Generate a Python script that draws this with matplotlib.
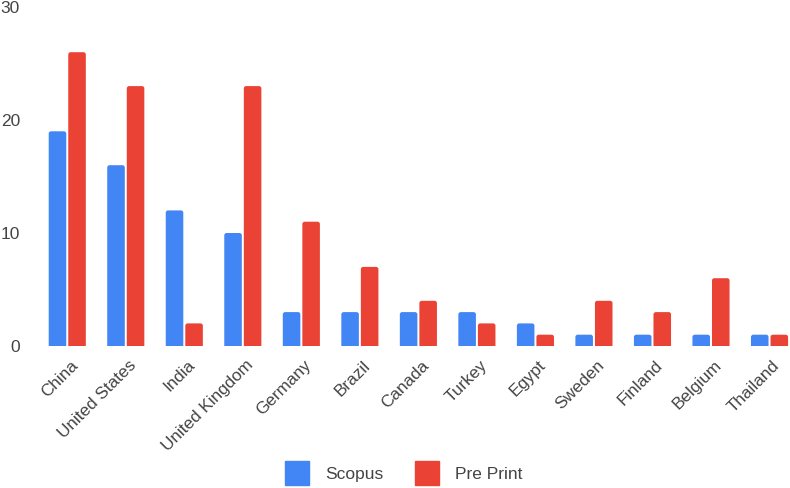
import matplotlib
matplotlib.use('Agg')
import matplotlib.pyplot as plt
import matplotlib.transforms as mtransforms
from matplotlib.patches import FancyBboxPatch
from matplotlib.lines import Line2D
import numpy as np

plt.rcParams['font.family'] = ['Liberation Sans', 'DejaVu Sans']

countries = ['China', 'United States', 'India', 'United Kingdom', 'Germany', 'Brazil',
             'Canada', 'Turkey', 'Egypt', 'Sweden', 'Finland', 'Belgium', 'Thailand']
scopus = [19, 16, 12, 10, 3, 3, 3, 3, 2, 1, 1, 1, 1]
preprint = [26, 23, 2, 23, 11, 7, 4, 2, 1, 4, 3, 6, 1]
yticks = [0, 10, 20, 30]

BLUE = '#4285F4'
RED = '#EA4335'
TEXT = '#444444'

W, H = 790, 488
fig = plt.figure(figsize=(W / 100, H / 100), dpi=100)
# axes box in pixels: left 38, right 790, y0 at 346, y30 at 7
ax = fig.add_axes([38 / W, (H - 346) / H, (790 - 38) / W, (346 - 7) / H])

x = np.arange(len(countries))
bw = 0.3
b1 = ax.bar(x - bw / 2 - 0.017, scopus, bw, color=BLUE)
b2 = ax.bar(x + bw / 2 + 0.017, preprint, bw, color=RED)

ax.set_xlim(-0.5, 12.35)
ax.set_ylim(0, 30)

# swap plain bars for bars with slightly rounded tops
for bars in (b1, b2):
    for p in bars:
        bx, by = p.get_x(), p.get_y()
        bwid, bh = p.get_width(), p.get_height()
        rp = FancyBboxPatch((bx, by - 1), bwid, bh + 1,
                            boxstyle='round,pad=0,rounding_size=0.04',
                            mutation_aspect=5.2, facecolor=p.get_facecolor(),
                            edgecolor='none')
        p.set_visible(False)
        ax.add_patch(rp)

for s in ax.spines.values():
    s.set_visible(False)
ax.tick_params(axis='both', length=0)
ax.set_yticks(yticks)
ax.set_yticklabels([str(v) for v in yticks], fontsize=12.5, color=TEXT)
ax.tick_params(axis='y', pad=13)

ax.set_xticks(x)
ax.set_xticklabels(countries, rotation=45, ha='right', va='center',
                   rotation_mode='anchor', fontsize=12.3, color=TEXT)
off = mtransforms.ScaledTranslation(8 / 100, -12 / 100, fig.dpi_scale_trans)
for lbl in ax.get_xticklabels():
    lbl.set_transform(lbl.get_transform() + off)

handles = [Line2D([], [], marker='s', linestyle='none', markersize=17,
                  markerfacecolor=BLUE, markeredgecolor=BLUE),
           Line2D([], [], marker='s', linestyle='none', markersize=17,
                  markerfacecolor=RED, markeredgecolor=RED)]
fig.legend(handles, ['Scopus', 'Pre Print'], loc='center',
           bbox_to_anchor=(401 / W, 1 - 474 / H), ncol=2, frameon=False,
           fontsize=12.5, labelcolor=TEXT, handletextpad=0.65, columnspacing=1.5)

fig.savefig('out.png', dpi=100)
